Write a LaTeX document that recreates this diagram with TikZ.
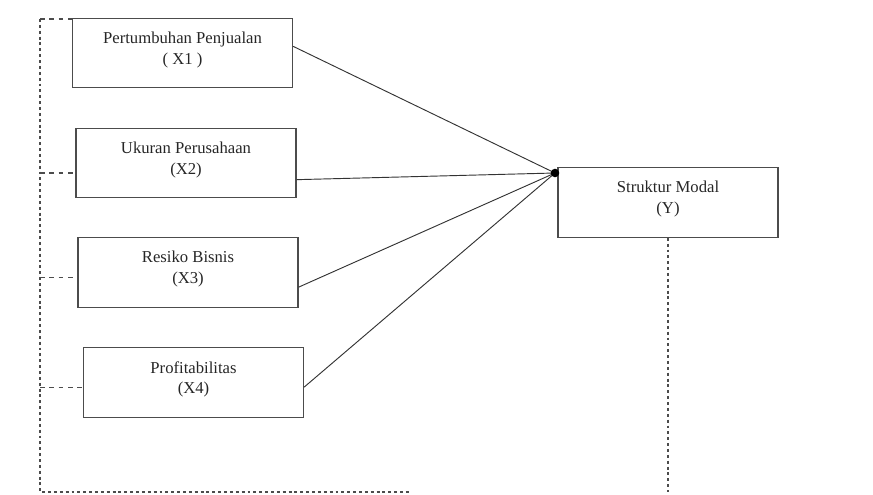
\documentclass[tikz,border=0pt]{standalone}
\usepackage{fontspec}
\setmainfont{Liberation Serif}
\usetikzlibrary{calc}
\tikzset{
  varbox/.style={draw=black!70, line width=0.9pt, minimum width=165pt, minimum height=52pt,
    align=center, inner sep=0pt, font=\fontsize{12.5}{15.5}\selectfont, text=black!85},
  sideline/.style={black!70, line width=0.8pt, dash pattern=on 2.2pt off 2.2pt},
  stub/.style={black!70, line width=0.8pt, dash pattern=on 3.5pt off 3.5pt},
  link/.style={black!80, line width=0.7pt}
}

\begin{document}
\begin{tikzpicture}[x=0.75pt,y=-0.75pt]
\useasboundingbox (0,0) rectangle (873,495);

% Draw the variable boxes
\node [varbox] (b1) at (182.5,53)  {Pertumbuhan Penjualan\\( X1 )\\[-8pt]};
\node [varbox] (b2) at (186,163)   {Ukuran Perusahaan\\(X2)\\[-8pt]};
\node [varbox] (b3) at (188,272.5) {Resiko Bisnis\\(X3)\\[-8pt]};
\node [varbox] (b4) at (193.5,382.5) {Profitabilitas\\(X4)\\[-8pt]};
\node [varbox] (y)  at (668,202.5) {Struktur Modal\\(Y)\\[-8pt]};

% Meeting point of the paths and corners of the dashed frame
\coordinate (hub) at (555,173);
\coordinate (top) at (40,19);
\coordinate (corner) at (40,492);
\coordinate (end) at (410,492);
\coordinate (yend) at (668,492);

% Draw the paths into Y
\draw [link] ([yshift=5pt]b1.east) -- (hub);
\draw [link] ([yshift=-12.5pt]b2.east) -- (hub);
\draw [link] ([yshift=-11pt]b3.east) -- (hub);
\draw [link] ([yshift=-3.5pt]b4.east) -- (hub);
\fill (hub) circle (3.2pt);

% Draw the dashed frame
\draw [sideline] (top) -- (corner) -- (end);
\draw [stub] (top) -- (top -| b1.west);
\draw [stub] (corner |- b2.west) ++(0,10) coordinate (s2) -- (s2 -| b2.west);
\draw [stub] (corner |- b3.west) ++(0,5) coordinate (s3) -- (s3 -| b3.west);
\draw [stub] (corner |- b4.west) ++(0,5) coordinate (s4) -- (s4 -| b4.west);
\draw [sideline] (y.south) -- (yend);

\end{tikzpicture}
\end{document}
